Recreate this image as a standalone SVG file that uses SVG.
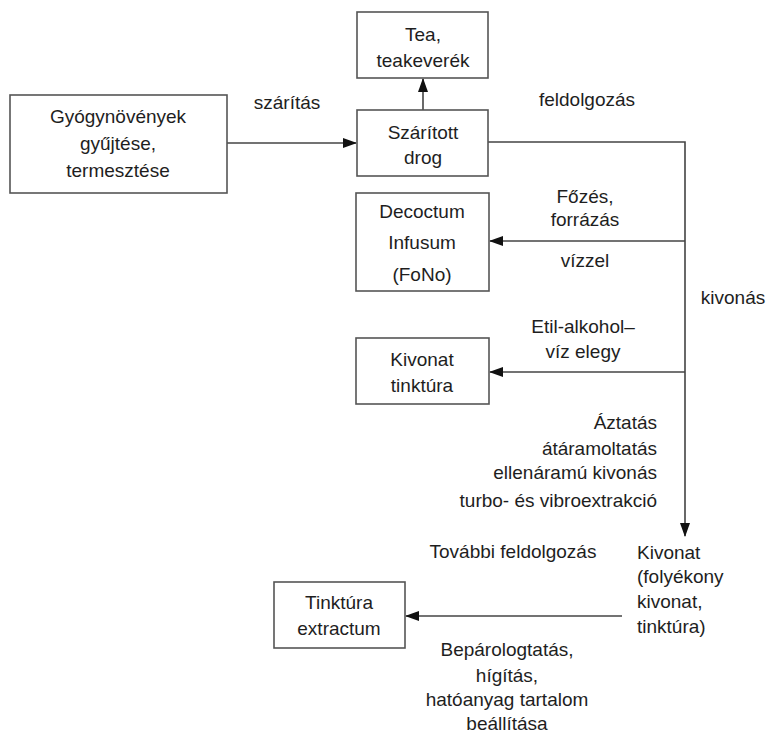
<svg xmlns="http://www.w3.org/2000/svg" width="776" height="737" viewBox="0 0 776 737">
<style>
.box{fill:#fff;stroke:#555;stroke-width:1.6}
.t{font-family:"Liberation Sans",Arial,sans-serif;font-size:19px;fill:#1e1e1e;text-anchor:middle}
.l{text-anchor:start}
.r{text-anchor:end}
.c{fill:none;stroke:#444;stroke-width:1.6}
</style>
<defs>
<marker id="ah" markerWidth="14" markerHeight="10" refX="13" refY="5" orient="auto" markerUnits="userSpaceOnUse">
<path d="M0,0 L14,5 L0,10 Z" fill="#111"/>
</marker>
</defs>
<rect width="776" height="737" fill="#fff"/>
<g id="connectors">
<line class="c" x1="227" y1="143" x2="356" y2="143" marker-end="url(#ah)"/>
<line class="c" x1="423" y1="110" x2="423" y2="79" marker-end="url(#ah)"/>
<polyline class="c" points="488,142 685,142 685,536" marker-end="url(#ah)"/>
<line class="c" x1="685" y1="241" x2="490" y2="241" marker-end="url(#ah)"/>
<line class="c" x1="685" y1="372" x2="490" y2="372" marker-end="url(#ah)"/>
<line class="c" x1="622" y1="616" x2="406" y2="616" marker-end="url(#ah)"/>
</g>
<g id="n-gyogy">
<rect class="box" x="10" y="95" width="217" height="98"/>
<text class="t" x="118" y="123">Gyógynövények</text>
<text class="t" x="118" y="150">gyűjtése,</text>
<text class="t" x="118" y="177">termesztése</text>
</g>
<g id="n-tea">
<rect class="box" x="357" y="12" width="131" height="66"/>
<text class="t" x="423" y="41">Tea,</text>
<text class="t" x="423" y="67">teakeverék</text>
</g>
<g id="n-drog">
<rect class="box" x="357" y="110" width="131" height="66"/>
<text class="t" x="423" y="139">Szárított</text>
<text class="t" x="423" y="164">drog</text>
</g>
<g id="n-decoctum">
<rect class="box" x="356" y="193" width="133" height="98"/>
<text class="t" x="422" y="218">Decoctum</text>
<text class="t" x="422" y="249">Infusum</text>
<text class="t" x="422" y="281">(FoNo)</text>
</g>
<g id="n-kivonat-tinktura">
<rect class="box" x="356" y="338" width="133" height="66"/>
<text class="t" x="422" y="366">Kivonat</text>
<text class="t" x="422" y="392">tinktúra</text>
</g>
<g id="n-tinktura-extractum">
<rect class="box" x="274" y="582" width="131" height="66"/>
<text class="t" x="339" y="609">Tinktúra</text>
<text class="t" x="339" y="635">extractum</text>
</g>
<g id="n-kivonat">
<text class="t l" x="637" y="559">Kivonat</text>
<text class="t l" x="637" y="583">(folyékony</text>
<text class="t l" x="637" y="608">kivonat,</text>
<text class="t l" x="637" y="633">tinktúra)</text>
</g>
<g id="labels">
<text class="t" x="287" y="109">szárítás</text>
<text class="t" x="587" y="106">feldolgozás</text>
<text class="t" x="585" y="203">Főzés,</text>
<text class="t" x="585" y="226">forrázás</text>
<text class="t" x="585" y="267">vízzel</text>
<text class="t" x="733" y="304">kivonás</text>
<text class="t" x="583" y="333">Etil-alkohol–</text>
<text class="t" x="583" y="358">víz elegy</text>
<text class="t r" x="657" y="429">Áztatás</text>
<text class="t r" x="657" y="455">átáramoltatás</text>
<text class="t r" x="657" y="479">ellenáramú kivonás</text>
<text class="t r" x="657" y="507">turbo- és vibroextrakció</text>
<text class="t" x="513" y="558">További feldolgozás</text>
<text class="t" x="507" y="656">Bepárologtatás,</text>
<text class="t" x="507" y="682">hígítás,</text>
<text class="t" x="507" y="706">hatóanyag tartalom</text>
<text class="t" x="507" y="730">beállítása</text>
</g>
</svg>
